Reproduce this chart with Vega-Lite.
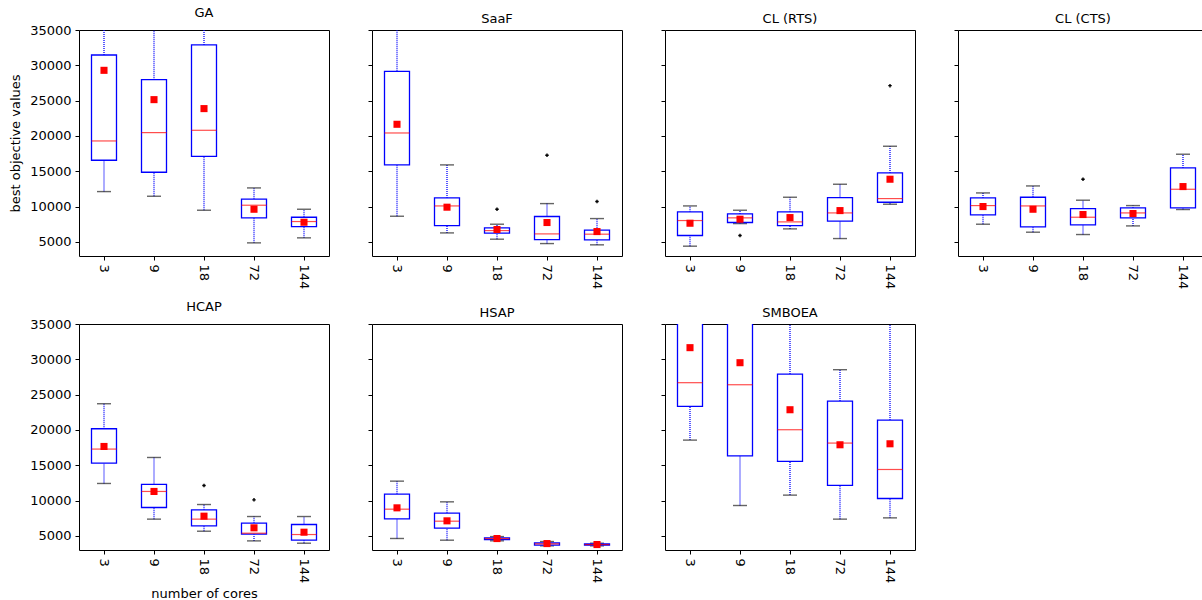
{
 "$schema": "https://vega.github.io/schema/vega-lite/v6.json",
 "padding": {"left": 9, "top": 6, "right": 0, "bottom": 0},
 "background": "white",
 "data": {"values": [
  {"algo":"GA","cores":3,"lower":12120,"q1":16560,"median":19290,"q3":31460,"upper":52000,"mean":29290},
  {"algo":"GA","cores":9,"lower":11460,"q1":14860,"median":20470,"q3":27970,"upper":48000,"mean":25140},
  {"algo":"GA","cores":18,"lower":9480,"q1":17120,"median":20800,"q3":32880,"upper":55000,"mean":23870},
  {"algo":"GA","cores":72,"lower":4860,"q1":8400,"median":10190,"q3":11040,"upper":12640,"mean":9620},
  {"algo":"GA","cores":144,"lower":5570,"q1":7170,"median":7880,"q3":8490,"upper":9620,"mean":7780},
  {"algo":"SaaF","cores":3,"lower":8630,"q1":15900,"median":20420,"q3":29150,"upper":45000,"mean":21650},
  {"algo":"SaaF","cores":9,"lower":6270,"q1":7310,"median":10090,"q3":11230,"upper":15900,"mean":9910},
  {"algo":"SaaF","cores":18,"lower":5380,"q1":6230,"median":6600,"q3":6980,"upper":7500,"mean":6750},
  {"algo":"SaaF","cores":72,"lower":4760,"q1":5330,"median":6130,"q3":8590,"upper":10420,"mean":7740},
  {"algo":"SaaF","cores":144,"lower":4580,"q1":5280,"median":6090,"q3":6650,"upper":8300,"mean":6460},
  {"algo":"SaaF","cores":18,"flier":9620},
  {"algo":"SaaF","cores":72,"flier":17260},
  {"algo":"SaaF","cores":144,"flier":10710},
  {"algo":"CL (RTS)","cores":3,"lower":4390,"q1":5900,"median":8020,"q3":9250,"upper":10090,"mean":7640},
  {"algo":"CL (RTS)","cores":9,"lower":7590,"q1":7740,"median":8400,"q3":8960,"upper":9480,"mean":8210},
  {"algo":"CL (RTS)","cores":18,"lower":6840,"q1":7310,"median":7830,"q3":9250,"upper":11320,"mean":8440},
  {"algo":"CL (RTS)","cores":72,"lower":5470,"q1":7930,"median":9100,"q3":11270,"upper":13160,"mean":9430},
  {"algo":"CL (RTS)","cores":144,"lower":10330,"q1":10610,"median":11130,"q3":14760,"upper":18540,"mean":13870},
  {"algo":"CL (RTS)","cores":9,"flier":5900},
  {"algo":"CL (RTS)","cores":144,"flier":27120},
  {"algo":"CL (CTS)","cores":3,"lower":7500,"q1":8820,"median":10140,"q3":11230,"upper":11930,"mean":10000},
  {"algo":"CL (CTS)","cores":9,"lower":6370,"q1":7120,"median":10090,"q3":11320,"upper":12920,"mean":9620},
  {"algo":"CL (CTS)","cores":18,"lower":6040,"q1":7410,"median":8490,"q3":9720,"upper":10900,"mean":8870},
  {"algo":"CL (CTS)","cores":72,"lower":7260,"q1":8400,"median":9100,"q3":9810,"upper":10140,"mean":9010},
  {"algo":"CL (CTS)","cores":144,"lower":9580,"q1":9810,"median":12450,"q3":15470,"upper":17410,"mean":12830},
  {"algo":"CL (CTS)","cores":18,"flier":13870},
  {"algo":"HCAP","cores":3,"lower":12420,"q1":15300,"median":17290,"q3":20170,"upper":23710,"mean":17660},
  {"algo":"HCAP","cores":9,"lower":7370,"q1":9020,"median":11290,"q3":12280,"upper":16100,"mean":11290},
  {"algo":"HCAP","cores":18,"lower":5660,"q1":6420,"median":7370,"q3":8690,"upper":9440,"mean":7790},
  {"algo":"HCAP","cores":72,"lower":4290,"q1":5240,"median":5380,"q3":6800,"upper":7740,"mean":6140},
  {"algo":"HCAP","cores":144,"lower":3960,"q1":4390,"median":5190,"q3":6610,"upper":7740,"mean":5520},
  {"algo":"HCAP","cores":18,"flier":12140},
  {"algo":"HCAP","cores":72,"flier":10100},
  {"algo":"HSAP","cores":3,"lower":4630,"q1":7410,"median":8780,"q3":10910,"upper":12750,"mean":8970},
  {"algo":"HSAP","cores":9,"lower":4390,"q1":6090,"median":7080,"q3":8220,"upper":9820,"mean":7130},
  {"algo":"HSAP","cores":18,"lower":4300,"q1":4480,"median":4620,"q3":4720,"upper":4900,"mean":4620},
  {"algo":"HSAP","cores":72,"lower":3590,"q1":3680,"median":3870,"q3":4010,"upper":4200,"mean":3910},
  {"algo":"HSAP","cores":144,"lower":3590,"q1":3680,"median":3770,"q3":3870,"upper":3960,"mean":3770},
  {"algo":"SMBOEA","cores":3,"lower":18560,"q1":23330,"median":26690,"q3":38000,"upper":45000,"mean":31650},
  {"algo":"SMBOEA","cores":9,"lower":9300,"q1":16340,"median":26400,"q3":37000,"upper":50000,"mean":29520},
  {"algo":"SMBOEA","cores":18,"lower":10770,"q1":15540,"median":20030,"q3":27910,"upper":45000,"mean":22860},
  {"algo":"SMBOEA","cores":72,"lower":7370,"q1":12140,"median":18140,"q3":24090,"upper":28530,"mean":17900},
  {"algo":"SMBOEA","cores":144,"lower":7550,"q1":10290,"median":14400,"q3":21400,"upper":40000,"mean":18040}
 ]},
 "spacing": 10,
 "vconcat": [
  {"spacing": 37, "hconcat": [
   {"title": "GA", "width": 250, "height": 226,
    "transform": [{"filter": "datum.algo === 'GA'"}],
    "encoding": {"x": {"field": "cores", "type": "ordinal", "scale": {"domain": [3,9,18,72,144], "paddingInner": 0, "paddingOuter": 0}, "axis": {"title": null}}},
    "layer": [
     {"transform": [{"filter": "isValid(datum.q1)"}], "mark": {"type": "rule", "color": "#0000ff", "strokeWidth": 1.3, "strokeDash": [1,1], "clip": true}, "encoding": {"y": {"field": "lower", "type": "quantitative", "title": "best objective values", "scale": {"domain": [3000,35000], "nice": false, "zero": false}, "axis": {"labels": true}}, "y2": {"field": "q1"}}},
     {"transform": [{"filter": "isValid(datum.q1)"}], "mark": {"type": "rule", "color": "#0000ff", "strokeWidth": 1.3, "strokeDash": [1,1], "clip": true}, "encoding": {"y": {"field": "q3", "type": "quantitative", "title": "best objective values"}, "y2": {"field": "upper"}}},
     {"transform": [{"filter": "isValid(datum.q1)"}], "mark": {"type": "tick", "color": "#222222", "size": 14, "thickness": 1.4, "clip": true}, "encoding": {"y": {"field": "lower", "type": "quantitative", "title": "best objective values"}}},
     {"transform": [{"filter": "isValid(datum.q1)"}], "mark": {"type": "tick", "color": "#222222", "size": 14, "thickness": 1.4, "clip": true}, "encoding": {"y": {"field": "upper", "type": "quantitative", "title": "best objective values"}}},
     {"transform": [{"filter": "isValid(datum.q1)"}], "mark": {"type": "bar", "width": {"band": 0.5}, "fill": "white", "stroke": "#0000ff", "strokeWidth": 1.3, "clip": true}, "encoding": {"y": {"field": "q1", "type": "quantitative", "title": "best objective values"}, "y2": {"field": "q3"}}},
     {"transform": [{"filter": "isValid(datum.q1)"}], "mark": {"type": "tick", "color": "#ff0000", "size": 25, "thickness": 1.2, "clip": true}, "encoding": {"y": {"field": "median", "type": "quantitative", "title": "best objective values"}}},
     {"transform": [{"filter": "isValid(datum.q1)"}], "mark": {"type": "point", "shape": "square", "filled": true, "color": "#ff0000", "size": 50, "opacity": 1, "clip": true}, "encoding": {"y": {"field": "mean", "type": "quantitative", "title": "best objective values"}}},
     {"transform": [{"filter": "isValid(datum.flier)"}], "mark": {"type": "point", "shape": "cross", "filled": true, "color": "black", "size": 12, "opacity": 1, "clip": true}, "encoding": {"y": {"field": "flier", "type": "quantitative", "title": "best objective values"}}}
    ]},
   {"title": "SaaF", "width": 250, "height": 226,
    "transform": [{"filter": "datum.algo === 'SaaF'"}],
    "encoding": {"x": {"field": "cores", "type": "ordinal", "scale": {"domain": [3,9,18,72,144], "paddingInner": 0, "paddingOuter": 0}, "axis": {"title": null}}},
    "layer": [
     {"transform": [{"filter": "isValid(datum.q1)"}], "mark": {"type": "rule", "color": "#0000ff", "strokeWidth": 1.3, "strokeDash": [1,1], "clip": true}, "encoding": {"y": {"field": "lower", "type": "quantitative", "title": null, "scale": {"domain": [3000,35000], "nice": false, "zero": false}, "axis": {"labels": false}}, "y2": {"field": "q1"}}},
     {"transform": [{"filter": "isValid(datum.q1)"}], "mark": {"type": "rule", "color": "#0000ff", "strokeWidth": 1.3, "strokeDash": [1,1], "clip": true}, "encoding": {"y": {"field": "q3", "type": "quantitative", "title": null}, "y2": {"field": "upper"}}},
     {"transform": [{"filter": "isValid(datum.q1)"}], "mark": {"type": "tick", "color": "#222222", "size": 14, "thickness": 1.4, "clip": true}, "encoding": {"y": {"field": "lower", "type": "quantitative", "title": null}}},
     {"transform": [{"filter": "isValid(datum.q1)"}], "mark": {"type": "tick", "color": "#222222", "size": 14, "thickness": 1.4, "clip": true}, "encoding": {"y": {"field": "upper", "type": "quantitative", "title": null}}},
     {"transform": [{"filter": "isValid(datum.q1)"}], "mark": {"type": "bar", "width": {"band": 0.5}, "fill": "white", "stroke": "#0000ff", "strokeWidth": 1.3, "clip": true}, "encoding": {"y": {"field": "q1", "type": "quantitative", "title": null}, "y2": {"field": "q3"}}},
     {"transform": [{"filter": "isValid(datum.q1)"}], "mark": {"type": "tick", "color": "#ff0000", "size": 25, "thickness": 1.2, "clip": true}, "encoding": {"y": {"field": "median", "type": "quantitative", "title": null}}},
     {"transform": [{"filter": "isValid(datum.q1)"}], "mark": {"type": "point", "shape": "square", "filled": true, "color": "#ff0000", "size": 50, "opacity": 1, "clip": true}, "encoding": {"y": {"field": "mean", "type": "quantitative", "title": null}}},
     {"transform": [{"filter": "isValid(datum.flier)"}], "mark": {"type": "point", "shape": "cross", "filled": true, "color": "black", "size": 12, "opacity": 1, "clip": true}, "encoding": {"y": {"field": "flier", "type": "quantitative", "title": null}}}
    ]},
   {"title": "CL (RTS)", "width": 250, "height": 226,
    "transform": [{"filter": "datum.algo === 'CL (RTS)'"}],
    "encoding": {"x": {"field": "cores", "type": "ordinal", "scale": {"domain": [3,9,18,72,144], "paddingInner": 0, "paddingOuter": 0}, "axis": {"title": null}}},
    "layer": [
     {"transform": [{"filter": "isValid(datum.q1)"}], "mark": {"type": "rule", "color": "#0000ff", "strokeWidth": 1.3, "strokeDash": [1,1], "clip": true}, "encoding": {"y": {"field": "lower", "type": "quantitative", "title": null, "scale": {"domain": [3000,35000], "nice": false, "zero": false}, "axis": {"labels": false}}, "y2": {"field": "q1"}}},
     {"transform": [{"filter": "isValid(datum.q1)"}], "mark": {"type": "rule", "color": "#0000ff", "strokeWidth": 1.3, "strokeDash": [1,1], "clip": true}, "encoding": {"y": {"field": "q3", "type": "quantitative", "title": null}, "y2": {"field": "upper"}}},
     {"transform": [{"filter": "isValid(datum.q1)"}], "mark": {"type": "tick", "color": "#222222", "size": 14, "thickness": 1.4, "clip": true}, "encoding": {"y": {"field": "lower", "type": "quantitative", "title": null}}},
     {"transform": [{"filter": "isValid(datum.q1)"}], "mark": {"type": "tick", "color": "#222222", "size": 14, "thickness": 1.4, "clip": true}, "encoding": {"y": {"field": "upper", "type": "quantitative", "title": null}}},
     {"transform": [{"filter": "isValid(datum.q1)"}], "mark": {"type": "bar", "width": {"band": 0.5}, "fill": "white", "stroke": "#0000ff", "strokeWidth": 1.3, "clip": true}, "encoding": {"y": {"field": "q1", "type": "quantitative", "title": null}, "y2": {"field": "q3"}}},
     {"transform": [{"filter": "isValid(datum.q1)"}], "mark": {"type": "tick", "color": "#ff0000", "size": 25, "thickness": 1.2, "clip": true}, "encoding": {"y": {"field": "median", "type": "quantitative", "title": null}}},
     {"transform": [{"filter": "isValid(datum.q1)"}], "mark": {"type": "point", "shape": "square", "filled": true, "color": "#ff0000", "size": 50, "opacity": 1, "clip": true}, "encoding": {"y": {"field": "mean", "type": "quantitative", "title": null}}},
     {"transform": [{"filter": "isValid(datum.flier)"}], "mark": {"type": "point", "shape": "cross", "filled": true, "color": "black", "size": 12, "opacity": 1, "clip": true}, "encoding": {"y": {"field": "flier", "type": "quantitative", "title": null}}}
    ]},
   {"title": "CL (CTS)", "width": 250, "height": 226,
    "transform": [{"filter": "datum.algo === 'CL (CTS)'"}],
    "encoding": {"x": {"field": "cores", "type": "ordinal", "scale": {"domain": [3,9,18,72,144], "paddingInner": 0, "paddingOuter": 0}, "axis": {"title": null}}},
    "layer": [
     {"transform": [{"filter": "isValid(datum.q1)"}], "mark": {"type": "rule", "color": "#0000ff", "strokeWidth": 1.3, "strokeDash": [1,1], "clip": true}, "encoding": {"y": {"field": "lower", "type": "quantitative", "title": null, "scale": {"domain": [3000,35000], "nice": false, "zero": false}, "axis": {"labels": false}}, "y2": {"field": "q1"}}},
     {"transform": [{"filter": "isValid(datum.q1)"}], "mark": {"type": "rule", "color": "#0000ff", "strokeWidth": 1.3, "strokeDash": [1,1], "clip": true}, "encoding": {"y": {"field": "q3", "type": "quantitative", "title": null}, "y2": {"field": "upper"}}},
     {"transform": [{"filter": "isValid(datum.q1)"}], "mark": {"type": "tick", "color": "#222222", "size": 14, "thickness": 1.4, "clip": true}, "encoding": {"y": {"field": "lower", "type": "quantitative", "title": null}}},
     {"transform": [{"filter": "isValid(datum.q1)"}], "mark": {"type": "tick", "color": "#222222", "size": 14, "thickness": 1.4, "clip": true}, "encoding": {"y": {"field": "upper", "type": "quantitative", "title": null}}},
     {"transform": [{"filter": "isValid(datum.q1)"}], "mark": {"type": "bar", "width": {"band": 0.5}, "fill": "white", "stroke": "#0000ff", "strokeWidth": 1.3, "clip": true}, "encoding": {"y": {"field": "q1", "type": "quantitative", "title": null}, "y2": {"field": "q3"}}},
     {"transform": [{"filter": "isValid(datum.q1)"}], "mark": {"type": "tick", "color": "#ff0000", "size": 25, "thickness": 1.2, "clip": true}, "encoding": {"y": {"field": "median", "type": "quantitative", "title": null}}},
     {"transform": [{"filter": "isValid(datum.q1)"}], "mark": {"type": "point", "shape": "square", "filled": true, "color": "#ff0000", "size": 50, "opacity": 1, "clip": true}, "encoding": {"y": {"field": "mean", "type": "quantitative", "title": null}}},
     {"transform": [{"filter": "isValid(datum.flier)"}], "mark": {"type": "point", "shape": "cross", "filled": true, "color": "black", "size": 12, "opacity": 1, "clip": true}, "encoding": {"y": {"field": "flier", "type": "quantitative", "title": null}}}
    ]}
  ]},
  {"spacing": 37, "hconcat": [
   {"title": "HCAP", "width": 250, "height": 226,
    "transform": [{"filter": "datum.algo === 'HCAP'"}],
    "encoding": {"x": {"field": "cores", "type": "ordinal", "scale": {"domain": [3,9,18,72,144], "paddingInner": 0, "paddingOuter": 0}, "axis": {"title": "number of cores"}}},
    "layer": [
     {"transform": [{"filter": "isValid(datum.q1)"}], "mark": {"type": "rule", "color": "#0000ff", "strokeWidth": 1.3, "strokeDash": [1,1], "clip": true}, "encoding": {"y": {"field": "lower", "type": "quantitative", "title": "best objective values", "scale": {"domain": [3000,35000], "nice": false, "zero": false}, "axis": {"labels": true, "titleOpacity": 0}}, "y2": {"field": "q1"}}},
     {"transform": [{"filter": "isValid(datum.q1)"}], "mark": {"type": "rule", "color": "#0000ff", "strokeWidth": 1.3, "strokeDash": [1,1], "clip": true}, "encoding": {"y": {"field": "q3", "type": "quantitative", "title": "best objective values"}, "y2": {"field": "upper"}}},
     {"transform": [{"filter": "isValid(datum.q1)"}], "mark": {"type": "tick", "color": "#222222", "size": 14, "thickness": 1.4, "clip": true}, "encoding": {"y": {"field": "lower", "type": "quantitative", "title": "best objective values"}}},
     {"transform": [{"filter": "isValid(datum.q1)"}], "mark": {"type": "tick", "color": "#222222", "size": 14, "thickness": 1.4, "clip": true}, "encoding": {"y": {"field": "upper", "type": "quantitative", "title": "best objective values"}}},
     {"transform": [{"filter": "isValid(datum.q1)"}], "mark": {"type": "bar", "width": {"band": 0.5}, "fill": "white", "stroke": "#0000ff", "strokeWidth": 1.3, "clip": true}, "encoding": {"y": {"field": "q1", "type": "quantitative", "title": "best objective values"}, "y2": {"field": "q3"}}},
     {"transform": [{"filter": "isValid(datum.q1)"}], "mark": {"type": "tick", "color": "#ff0000", "size": 25, "thickness": 1.2, "clip": true}, "encoding": {"y": {"field": "median", "type": "quantitative", "title": "best objective values"}}},
     {"transform": [{"filter": "isValid(datum.q1)"}], "mark": {"type": "point", "shape": "square", "filled": true, "color": "#ff0000", "size": 50, "opacity": 1, "clip": true}, "encoding": {"y": {"field": "mean", "type": "quantitative", "title": "best objective values"}}},
     {"transform": [{"filter": "isValid(datum.flier)"}], "mark": {"type": "point", "shape": "cross", "filled": true, "color": "black", "size": 12, "opacity": 1, "clip": true}, "encoding": {"y": {"field": "flier", "type": "quantitative", "title": "best objective values"}}}
    ]},
   {"title": "HSAP", "width": 250, "height": 226,
    "transform": [{"filter": "datum.algo === 'HSAP'"}],
    "encoding": {"x": {"field": "cores", "type": "ordinal", "scale": {"domain": [3,9,18,72,144], "paddingInner": 0, "paddingOuter": 0}, "axis": {"title": null}}},
    "layer": [
     {"transform": [{"filter": "isValid(datum.q1)"}], "mark": {"type": "rule", "color": "#0000ff", "strokeWidth": 1.3, "strokeDash": [1,1], "clip": true}, "encoding": {"y": {"field": "lower", "type": "quantitative", "title": null, "scale": {"domain": [3000,35000], "nice": false, "zero": false}, "axis": {"labels": false}}, "y2": {"field": "q1"}}},
     {"transform": [{"filter": "isValid(datum.q1)"}], "mark": {"type": "rule", "color": "#0000ff", "strokeWidth": 1.3, "strokeDash": [1,1], "clip": true}, "encoding": {"y": {"field": "q3", "type": "quantitative", "title": null}, "y2": {"field": "upper"}}},
     {"transform": [{"filter": "isValid(datum.q1)"}], "mark": {"type": "tick", "color": "#222222", "size": 14, "thickness": 1.4, "clip": true}, "encoding": {"y": {"field": "lower", "type": "quantitative", "title": null}}},
     {"transform": [{"filter": "isValid(datum.q1)"}], "mark": {"type": "tick", "color": "#222222", "size": 14, "thickness": 1.4, "clip": true}, "encoding": {"y": {"field": "upper", "type": "quantitative", "title": null}}},
     {"transform": [{"filter": "isValid(datum.q1)"}], "mark": {"type": "bar", "width": {"band": 0.5}, "fill": "white", "stroke": "#0000ff", "strokeWidth": 1.3, "clip": true}, "encoding": {"y": {"field": "q1", "type": "quantitative", "title": null}, "y2": {"field": "q3"}}},
     {"transform": [{"filter": "isValid(datum.q1)"}], "mark": {"type": "tick", "color": "#ff0000", "size": 25, "thickness": 1.2, "clip": true}, "encoding": {"y": {"field": "median", "type": "quantitative", "title": null}}},
     {"transform": [{"filter": "isValid(datum.q1)"}], "mark": {"type": "point", "shape": "square", "filled": true, "color": "#ff0000", "size": 50, "opacity": 1, "clip": true}, "encoding": {"y": {"field": "mean", "type": "quantitative", "title": null}}},
     {"transform": [{"filter": "isValid(datum.flier)"}], "mark": {"type": "point", "shape": "cross", "filled": true, "color": "black", "size": 12, "opacity": 1, "clip": true}, "encoding": {"y": {"field": "flier", "type": "quantitative", "title": null}}}
    ]},
   {"title": "SMBOEA", "width": 250, "height": 226,
    "transform": [{"filter": "datum.algo === 'SMBOEA'"}],
    "encoding": {"x": {"field": "cores", "type": "ordinal", "scale": {"domain": [3,9,18,72,144], "paddingInner": 0, "paddingOuter": 0}, "axis": {"title": null}}},
    "layer": [
     {"transform": [{"filter": "isValid(datum.q1)"}], "mark": {"type": "rule", "color": "#0000ff", "strokeWidth": 1.3, "strokeDash": [1,1], "clip": true}, "encoding": {"y": {"field": "lower", "type": "quantitative", "title": null, "scale": {"domain": [3000,35000], "nice": false, "zero": false}, "axis": {"labels": false}}, "y2": {"field": "q1"}}},
     {"transform": [{"filter": "isValid(datum.q1)"}], "mark": {"type": "rule", "color": "#0000ff", "strokeWidth": 1.3, "strokeDash": [1,1], "clip": true}, "encoding": {"y": {"field": "q3", "type": "quantitative", "title": null}, "y2": {"field": "upper"}}},
     {"transform": [{"filter": "isValid(datum.q1)"}], "mark": {"type": "tick", "color": "#222222", "size": 14, "thickness": 1.4, "clip": true}, "encoding": {"y": {"field": "lower", "type": "quantitative", "title": null}}},
     {"transform": [{"filter": "isValid(datum.q1)"}], "mark": {"type": "tick", "color": "#222222", "size": 14, "thickness": 1.4, "clip": true}, "encoding": {"y": {"field": "upper", "type": "quantitative", "title": null}}},
     {"transform": [{"filter": "isValid(datum.q1)"}], "mark": {"type": "bar", "width": {"band": 0.5}, "fill": "white", "stroke": "#0000ff", "strokeWidth": 1.3, "clip": true}, "encoding": {"y": {"field": "q1", "type": "quantitative", "title": null}, "y2": {"field": "q3"}}},
     {"transform": [{"filter": "isValid(datum.q1)"}], "mark": {"type": "tick", "color": "#ff0000", "size": 25, "thickness": 1.2, "clip": true}, "encoding": {"y": {"field": "median", "type": "quantitative", "title": null}}},
     {"transform": [{"filter": "isValid(datum.q1)"}], "mark": {"type": "point", "shape": "square", "filled": true, "color": "#ff0000", "size": 50, "opacity": 1, "clip": true}, "encoding": {"y": {"field": "mean", "type": "quantitative", "title": null}}},
     {"transform": [{"filter": "isValid(datum.flier)"}], "mark": {"type": "point", "shape": "cross", "filled": true, "color": "black", "size": 12, "opacity": 1, "clip": true}, "encoding": {"y": {"field": "flier", "type": "quantitative", "title": null}}}
    ]}
  ]}
 ],
 "config": {
  "font": "DejaVu Sans",
  "view": {"stroke": "black", "strokeWidth": 1},
  "axis": {"domain": false, "grid": false, "ticks": true, "tickColor": "black", "tickSize": 4, "tickWidth": 1, "labelFont": "DejaVu Sans", "labelFontSize": 13, "labelColor": "black", "labelPadding": 4, "titleFont": "DejaVu Sans", "titleFontSize": 13, "titleFontWeight": "normal", "titleColor": "black", "titlePadding": 5},
  "axisX": {"labelAngle": 90},
  "axisY": {"values": [5000, 10000, 15000, 20000, 25000, 30000, 35000], "format": "d", "titlePadding": 7},
  "title": {"font": "DejaVu Sans", "fontSize": 13, "fontWeight": "normal", "color": "black", "offset": 4}
 }
}
